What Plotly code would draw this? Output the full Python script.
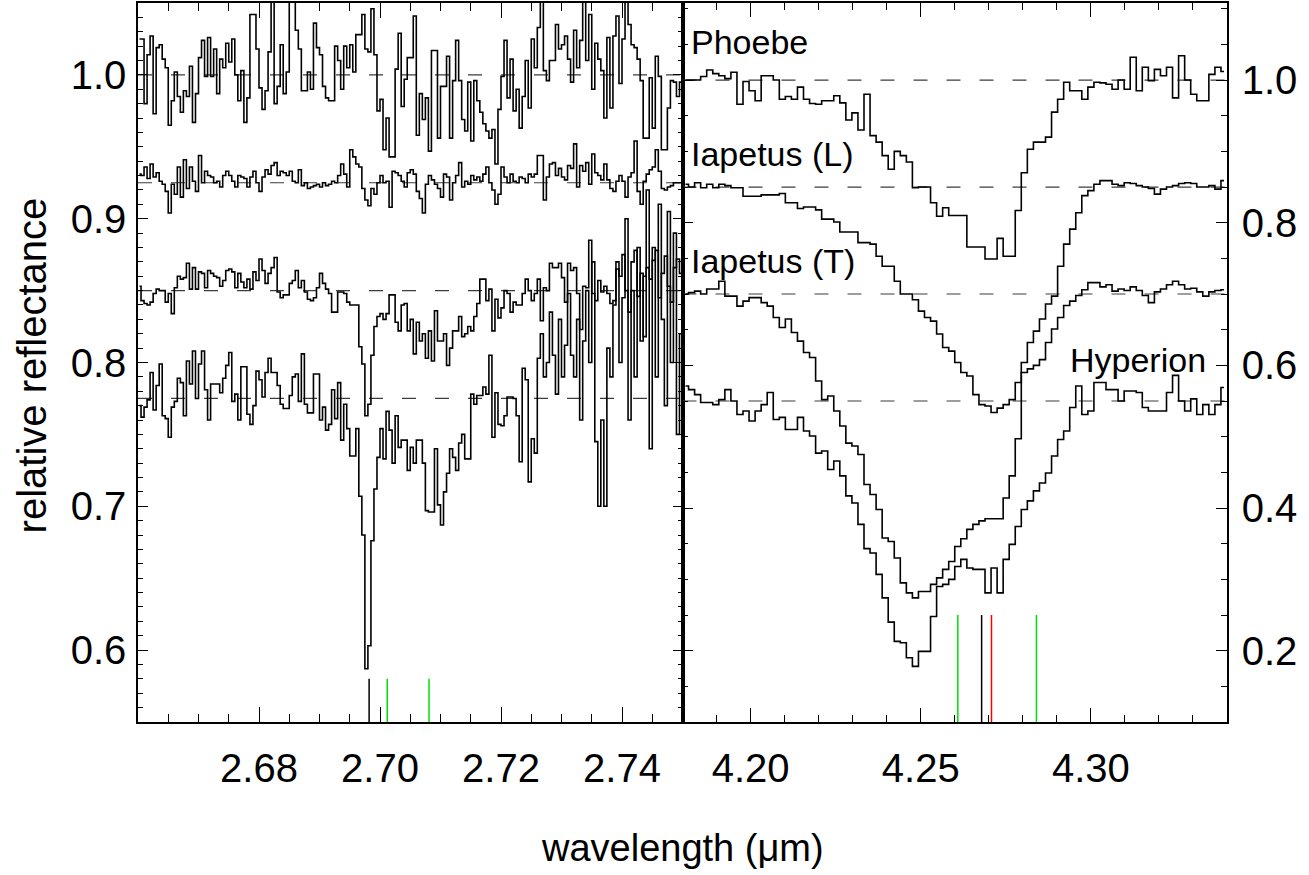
import plotly.graph_objects as go

FONT = "Liberation Sans, Arial, Helvetica, sans-serif"

# ---------------- data: left panel (2.66 - 2.75 um), bin width 0.0005 um ----------------
L_START, L_STEP = 2.66, 0.0005

PHOEBE_L = [
    1.025, 1.025, 0.980, 1.014, 1.027, 0.973, 1.019, 1.021, 1.011, 1.005,
    0.965, 0.982, 1.002, 0.985, 0.974, 0.989, 0.985, 1.006, 0.967, 0.987,
    1.012, 1.024, 0.999, 1.026, 0.999, 1.018, 0.987, 1.011, 1.005, 1.022,
    1.009, 1.025, 1.000, 0.982, 1.003, 0.967, 0.984, 1.042, 1.042, 1.018,
    0.991, 0.976, 0.989, 1.016, 1.060, 0.980, 0.992, 1.021, 0.987, 1.002,
    1.060, 1.060, 1.031, 1.018, 0.989, 0.989, 1.002, 0.990, 1.036, 1.019,
    1.014, 0.992, 0.984, 0.982, 0.982, 1.020, 1.010, 0.990, 1.020, 1.005,
    1.021, 1.002, 1.028, 1.028, 1.042, 1.018, 1.016, 1.046, 1.014, 0.975,
    0.983, 0.948, 0.970, 0.943, 0.943, 1.004, 1.029, 0.978, 0.997, 1.012,
    1.012, 1.041, 0.958, 0.987, 0.969, 0.984, 0.947, 1.017, 1.017, 0.956,
    0.992, 0.992, 1.013, 0.956, 0.996, 1.024, 0.996, 0.969, 0.961, 0.995,
    0.954, 0.996, 0.982, 0.974, 0.966, 0.961, 0.956, 0.962, 0.938, 0.976,
    0.999, 1.024, 0.984, 1.011, 0.975, 0.990, 0.963, 0.985, 1.010, 0.977,
    1.025, 1.005, 1.033, 1.060, 1.003, 0.996, 1.010, 1.010, 1.035, 1.018,
    1.021, 1.027, 1.011, 0.995, 1.031, 1.005, 1.024, 1.060, 1.010, 1.042,
    0.990, 1.022, 1.011, 1.003, 0.970, 1.026, 0.977, 1.027, 1.041, 0.994,
    1.025, 1.060, 1.035, 1.021, 1.019, 1.011, 0.996, 0.956, 0.956, 0.998,
    0.963, 1.013, 0.999, 0.948, 0.948, 0.977, 0.996, 0.995, 0.985, 0.995,
]

IAPETUS_L_L = [
    0.931, 0.930, 0.936, 0.928, 0.938, 0.929, 0.932, 0.926, 0.924, 0.919,
    0.904, 0.924, 0.917, 0.936, 0.915, 0.941, 0.921, 0.936, 0.926, 0.919,
    0.944, 0.925, 0.933, 0.930, 0.929, 0.925, 0.926, 0.922, 0.930, 0.933,
    0.930, 0.926, 0.922, 0.930, 0.929, 0.928, 0.922, 0.929, 0.933, 0.925,
    0.919, 0.929, 0.934, 0.931, 0.937, 0.939, 0.930, 0.933, 0.932, 0.930,
    0.933, 0.926, 0.925, 0.934, 0.923, 0.925, 0.921, 0.922, 0.923, 0.924,
    0.922, 0.925, 0.923, 0.924, 0.926, 0.925, 0.930, 0.938, 0.931, 0.922,
    0.948, 0.943, 0.938, 0.936, 0.921, 0.913, 0.909, 0.921, 0.917, 0.925,
    0.930, 0.925, 0.926, 0.908, 0.933, 0.932, 0.930, 0.926, 0.922, 0.932,
    0.934, 0.931, 0.919, 0.914, 0.904, 0.924, 0.930, 0.927, 0.924, 0.921,
    0.915, 0.931, 0.929, 0.913, 0.925, 0.930, 0.939, 0.922, 0.926, 0.924,
    0.930, 0.927, 0.929, 0.926, 0.931, 0.936, 0.925, 0.920, 0.910, 0.917,
    0.936, 0.929, 0.925, 0.931, 0.926, 0.925, 0.929, 0.928, 0.925, 0.931,
    0.929, 0.931, 0.944, 0.944, 0.913, 0.929, 0.938, 0.939, 0.930, 0.935,
    0.929, 0.927, 0.937, 0.935, 0.952, 0.922, 0.937, 0.933, 0.939, 0.924,
    0.945, 0.932, 0.930, 0.927, 0.938, 0.927, 0.921, 0.919, 0.926, 0.930,
    0.926, 0.915, 0.929, 0.932, 0.954, 0.919, 0.910, 0.926, 0.931, 0.934,
    0.936, 0.948, 0.933, 0.921, 0.920, 0.922, 0.923, 0.925, 0.925, 0.925,
]

IAPETUS_T_L = [
    0.853, 0.843, 0.841, 0.840, 0.842, 0.848, 0.851, 0.850, 0.850, 0.842,
    0.848, 0.834, 0.852, 0.860, 0.858, 0.859, 0.869, 0.851, 0.866, 0.851,
    0.863, 0.862, 0.852, 0.864, 0.862, 0.860, 0.859, 0.853, 0.857, 0.864,
    0.865, 0.863, 0.852, 0.862, 0.856, 0.852, 0.858, 0.851, 0.863, 0.857,
    0.872, 0.864, 0.855, 0.862, 0.866, 0.873, 0.849, 0.845, 0.847, 0.847,
    0.855, 0.857, 0.864, 0.852, 0.857, 0.849, 0.844, 0.843, 0.845, 0.852,
    0.862, 0.855, 0.851, 0.848, 0.835, 0.835, 0.849, 0.849, 0.848, 0.842,
    0.840, 0.840, 0.840, 0.811, 0.799, 0.763, 0.771, 0.805, 0.825, 0.832,
    0.834, 0.830, 0.834, 0.847, 0.847, 0.828, 0.822, 0.840, 0.841, 0.822,
    0.830, 0.806, 0.828, 0.815, 0.820, 0.803, 0.822, 0.801, 0.836, 0.815,
    0.815, 0.820, 0.798, 0.810, 0.822, 0.822, 0.832, 0.818, 0.820, 0.825,
    0.822, 0.832, 0.841, 0.858, 0.858, 0.843, 0.851, 0.822, 0.844, 0.831,
    0.838, 0.850, 0.848, 0.835, 0.842, 0.840, 0.840, 0.848, 0.858, 0.850,
    0.843, 0.848, 0.858, 0.829, 0.852, 0.850, 0.869, 0.866, 0.866, 0.869,
    0.859, 0.842, 0.869, 0.864, 0.866, 0.848, 0.823, 0.853, 0.852, 0.885,
    0.848, 0.843, 0.857, 0.849, 0.853, 0.848, 0.841, 0.843, 0.870, 0.860,
    0.875, 0.850, 0.835, 0.870, 0.878, 0.846, 0.862, 0.818, 0.866, 0.858,
    0.871, 0.878, 0.845, 0.862, 0.874, 0.853, 0.842, 0.866, 0.872, 0.862,
]

HYPERION_L = [
    0.770, 0.762, 0.769, 0.774, 0.793, 0.767, 0.784, 0.799, 0.763, 0.761,
    0.748, 0.769, 0.773, 0.789, 0.786, 0.763, 0.801, 0.785, 0.808, 0.775,
    0.799, 0.808, 0.781, 0.760, 0.785, 0.785, 0.785, 0.779, 0.789, 0.798,
    0.807, 0.773, 0.778, 0.760, 0.797, 0.797, 0.764, 0.757, 0.770, 0.794,
    0.788, 0.776, 0.793, 0.803, 0.793, 0.793, 0.784, 0.771, 0.768, 0.768,
    0.777, 0.790, 0.792, 0.773, 0.806, 0.771, 0.765, 0.765, 0.792, 0.792,
    0.760, 0.769, 0.753, 0.757, 0.781, 0.761, 0.786, 0.746, 0.771, 0.754,
    0.735, 0.735, 0.754, 0.707, 0.680, 0.587, 0.603, 0.676, 0.712, 0.734,
    0.754, 0.733, 0.766, 0.753, 0.730, 0.763, 0.741, 0.746, 0.746, 0.725,
    0.741, 0.730, 0.746, 0.746, 0.730, 0.697, 0.696, 0.696, 0.740, 0.701,
    0.687, 0.710, 0.723, 0.740, 0.734, 0.725, 0.744, 0.750, 0.733, 0.733,
    0.778, 0.771, 0.777, 0.777, 0.783, 0.778, 0.805, 0.748, 0.779, 0.757,
    0.756, 0.763, 0.776, 0.776, 0.775, 0.763, 0.731, 0.796, 0.788, 0.717,
    0.747, 0.737, 0.803, 0.820, 0.790, 0.800, 0.835, 0.805, 0.778, 0.830,
    0.790, 0.812, 0.848, 0.805, 0.790, 0.830, 0.760, 0.815, 0.850, 0.800,
    0.870, 0.745, 0.700, 0.760, 0.700, 0.810, 0.790, 0.840, 0.865, 0.800,
    0.845, 0.900, 0.760, 0.850, 0.790, 0.880, 0.815, 0.860, 0.920, 0.740,
    0.880, 0.790, 0.910, 0.830, 0.770, 0.905, 0.800, 0.890, 0.750, 0.820,
]

# ---------------- data: right panel (4.18 - 4.34 um), 90 bins ----------------
R_START, R_END, R_NBINS = 4.18, 4.34, 90

PHOEBE_R = [
    1.000, 1.000, 1.000, 1.005, 1.014, 1.009, 1.006, 1.002, 1.011, 0.966,
    0.998, 0.985, 0.971, 1.006, 1.006, 1.000, 0.973, 0.977, 0.973, 0.990,
    0.973, 0.967, 0.966, 0.971, 0.971, 0.978, 0.968, 0.944, 0.954, 0.930,
    0.980, 0.922, 0.913, 0.894, 0.875, 0.900, 0.894, 0.885, 0.849, 0.850,
    0.850, 0.828, 0.809, 0.821, 0.810, 0.810, 0.810, 0.766, 0.766, 0.766,
    0.749, 0.749, 0.778, 0.753, 0.753, 0.817, 0.870, 0.903, 0.913, 0.913,
    0.920, 0.955, 0.973, 0.997, 0.985, 0.985, 0.973, 0.990, 0.997, 0.996,
    0.994, 0.987, 1.000, 0.987, 1.032, 0.985, 1.018, 0.999, 1.015, 1.006,
    1.018, 0.975, 1.034, 1.000, 0.980, 0.971, 0.971, 1.008, 1.018, 1.012,
]

IAPETUS_L_R = [
    0.854, 0.850, 0.856, 0.849, 0.854, 0.849, 0.854, 0.852, 0.849, 0.849,
    0.837, 0.837, 0.837, 0.839, 0.839, 0.839, 0.841, 0.828, 0.828, 0.820,
    0.822, 0.822, 0.818, 0.805, 0.805, 0.801, 0.787, 0.787, 0.787, 0.772,
    0.772, 0.770, 0.753, 0.739, 0.739, 0.718, 0.700, 0.700, 0.692, 0.676,
    0.667, 0.662, 0.644, 0.625, 0.620, 0.604, 0.590, 0.585, 0.559, 0.545,
    0.543, 0.534, 0.540, 0.545, 0.552, 0.576, 0.604, 0.632, 0.648, 0.665,
    0.686, 0.697, 0.739, 0.770, 0.791, 0.814, 0.838, 0.845, 0.854, 0.859,
    0.859, 0.854, 0.852, 0.856, 0.855, 0.852, 0.850, 0.848, 0.840, 0.847,
    0.850, 0.852, 0.855, 0.856, 0.855, 0.850, 0.850, 0.852, 0.847, 0.859,
]

IAPETUS_T_R = [
    0.700, 0.702, 0.704, 0.700, 0.707, 0.707, 0.718, 0.697, 0.697, 0.683,
    0.690, 0.695, 0.695, 0.688, 0.683, 0.667, 0.653, 0.665, 0.646, 0.634,
    0.618, 0.611, 0.578, 0.552, 0.557, 0.536, 0.515, 0.491, 0.487, 0.475,
    0.433, 0.419, 0.398, 0.358, 0.353, 0.330, 0.295, 0.281, 0.274, 0.283,
    0.283, 0.293, 0.302, 0.314, 0.325, 0.346, 0.357, 0.370, 0.377, 0.382,
    0.385, 0.385, 0.385, 0.414, 0.445, 0.497, 0.590, 0.595, 0.600, 0.608,
    0.632, 0.651, 0.667, 0.684, 0.690, 0.698, 0.706, 0.716, 0.716, 0.710,
    0.713, 0.704, 0.707, 0.705, 0.710, 0.705, 0.698, 0.688, 0.703, 0.707,
    0.713, 0.718, 0.713, 0.707, 0.708, 0.703, 0.697, 0.703, 0.705, 0.706,
]

HYPERION_R = [
    0.571, 0.566, 0.559, 0.548, 0.548, 0.545, 0.552, 0.566, 0.550, 0.531,
    0.536, 0.522, 0.536, 0.545, 0.562, 0.524, 0.527, 0.510, 0.510, 0.527,
    0.508, 0.501, 0.477, 0.480, 0.454, 0.466, 0.445, 0.417, 0.407, 0.377,
    0.343, 0.337, 0.307, 0.274, 0.240, 0.213, 0.211, 0.190, 0.178, 0.199,
    0.199, 0.248, 0.290, 0.293, 0.300, 0.318, 0.328, 0.316, 0.314, 0.314,
    0.281, 0.316, 0.281, 0.328, 0.349, 0.374, 0.398, 0.410, 0.424, 0.435,
    0.449, 0.473, 0.496, 0.508, 0.541, 0.571, 0.531, 0.536, 0.576, 0.576,
    0.566, 0.566, 0.550, 0.564, 0.564, 0.562, 0.541, 0.536, 0.536, 0.536,
    0.562, 0.586, 0.550, 0.536, 0.553, 0.531, 0.545, 0.531, 0.545, 0.569,
]

# continuum levels (dashed) and line markers
L_CONTINUUM = [1.0, 0.925, 0.85, 0.775]
R_CONTINUUM = [1.0, 0.85, 0.70, 0.55]
L_MARK_WL = [2.6982, 2.7012, 2.7081]
L_MARK_COLORS = ["black", "#00e000", "#00e000"]
R_MARK_WL = [4.2609, 4.2679, 4.2708, 4.2840]
R_MARK_COLORS = ["#00e000", "black", "red", "#00e000"]
L_MARK_Y = [0.55, 0.58]
R_MARK_Y = [0.10, 0.25]
NAMES = ["Phoebe", "Iapetus (L)", "Iapetus (T)", "Hyperion"]

# tick labels
L_TICKS = [2.68, 2.70, 2.72, 2.74]
R_TICKS = [4.20, 4.25, 4.30]
YL_TICKS = [0.6, 0.7, 0.8, 0.9, 1.0]
YR_TICKS = [0.2, 0.4, 0.6, 0.8, 1.0]

L_RANGE = [2.66, 2.75]
R_RANGE = [R_START, R_END]


def grid(start, step, n):
    return [start + (i + 0.5) * step for i in range(n)]


fig = go.Figure()

# dashed continuum lines
for lvl in L_CONTINUUM:
    fig.add_trace(go.Scatter(x=L_RANGE, y=[lvl, lvl], mode="lines", xaxis="x", yaxis="y",
                             line=dict(color="#3c3c3c", width=1.2, dash="14px,19px"),
                             hoverinfo="skip"))
for lvl in R_CONTINUUM:
    fig.add_trace(go.Scatter(x=R_RANGE, y=[lvl, lvl], mode="lines", xaxis="x2", yaxis="y2",
                             line=dict(color="#3c3c3c", width=1.2, dash="14px,19px"),
                             hoverinfo="skip"))

# spectra
for name, vals in zip(NAMES, [PHOEBE_L, IAPETUS_L_L, IAPETUS_T_L, HYPERION_L]):
    fig.add_trace(go.Scatter(x=grid(L_START, L_STEP, len(vals)), y=vals, name=name,
                             mode="lines", line=dict(color="black", width=1.6, shape="hvh"),
                             xaxis="x", yaxis="y"))
r_step = (R_END - R_START) / R_NBINS
for name, vals in zip(NAMES, [PHOEBE_R, IAPETUS_L_R, IAPETUS_T_R, HYPERION_R]):
    fig.add_trace(go.Scatter(x=grid(R_START, r_step, len(vals)), y=vals, name=name,
                             mode="lines", line=dict(color="black", width=1.6, shape="hvh"),
                             xaxis="x2", yaxis="y2"))

# line position markers
for wl, col in zip(L_MARK_WL, L_MARK_COLORS):
    fig.add_trace(go.Scatter(x=[wl, wl], y=L_MARK_Y, mode="lines", xaxis="x", yaxis="y",
                             line=dict(color=col, width=1.5), hoverinfo="skip"))
for wl, col in zip(R_MARK_WL, R_MARK_COLORS):
    fig.add_trace(go.Scatter(x=[wl, wl], y=R_MARK_Y, mode="lines", xaxis="x2", yaxis="y2",
                             line=dict(color=col, width=1.5), hoverinfo="skip"))

TICKFONT = dict(family=FONT, size=40, color="black")
common = dict(showline=True, linecolor="black", linewidth=1.5, mirror="ticks",
              ticks="inside", tickcolor="black", tickwidth=1.3, showgrid=False,
              zeroline=False, tickfont=TICKFONT, automargin=False)

fig.update_layout(
    width=1309, height=875,
    margin=dict(l=138, r=82, t=3, b=153, autoexpand=False),
    plot_bgcolor="white", paper_bgcolor="white",
    showlegend=False,
    font=dict(family=FONT, color="black"),
    xaxis=dict(domain=[0, 0.5], range=L_RANGE, anchor="y", tickmode="array",
               tickvals=L_TICKS, ticktext=[f"{v:.2f}" for v in L_TICKS], ticklen=15,
               ticklabelstandoff=10,
               minor=dict(dtick=0.005, tick0=2.66, ticks="inside", ticklen=8,
                          tickcolor="black", tickwidth=1.1, showgrid=False),
               **common),
    yaxis=dict(domain=[0, 1], range=[0.55, 1.05], anchor="x", tickmode="array",
               tickvals=YL_TICKS, ticktext=[f"{v:.1f}" for v in YL_TICKS], ticklen=10,
               ticklabelstandoff=2,
               minor=dict(dtick=0.01, tick0=0.55, ticks="inside", ticklen=5,
                          tickcolor="black", tickwidth=1.1, showgrid=False),
               **common),
    xaxis2=dict(domain=[0.5, 1], range=R_RANGE, anchor="y2", tickmode="array",
                tickvals=R_TICKS, ticktext=[f"{v:.2f}" for v in R_TICKS], ticklen=14,
                ticklabelstandoff=10,
                minor=dict(dtick=0.01, tick0=4.18, ticks="inside", ticklen=7,
                           tickcolor="black", tickwidth=1.1, showgrid=False),
                **common),
    yaxis2=dict(domain=[0, 1], range=[0.1, 1.108], anchor="x2", side="right",
                tickmode="array", tickvals=YR_TICKS,
                ticktext=[f"{v:.1f}" for v in YR_TICKS], ticklen=11,
                ticklabelstandoff=5,
                minor=dict(dtick=0.05, tick0=0.1, ticks="inside", ticklen=6,
                           tickcolor="black", tickwidth=1.1, showgrid=False),
                **common),
)

# object labels in right panel
LABEL_FONT = dict(family=FONT, size=34, color="black")
label_pos = [(4.1818, 1.053), (4.1818, 0.896), (4.1818, 0.747), (4.2934, 0.608)]
for name, (lx, ly) in zip(NAMES, label_pos):
    fig.add_annotation(x=lx, y=ly, xref="x2", yref="y2", text=name, showarrow=False,
                       xanchor="left", yanchor="middle", font=LABEL_FONT)

# axis titles
fig.add_annotation(x=0.5, y=-0.175, xref="paper", yref="paper", text="wavelength (\u03bcm)",
                   showarrow=False, xanchor="center", yanchor="middle",
                   font=dict(family=FONT, size=38, color="black"))
fig.add_annotation(x=-0.097, y=0.4965, xref="paper", yref="paper", text="relative reflectance",
                   showarrow=False, textangle=-90, xanchor="center", yanchor="middle",
                   font=dict(family=FONT, size=40, color="black"))

fig.write_html("out.html", config={"displayModeBar": False},
               post_script="document.body.style.margin='0';")
